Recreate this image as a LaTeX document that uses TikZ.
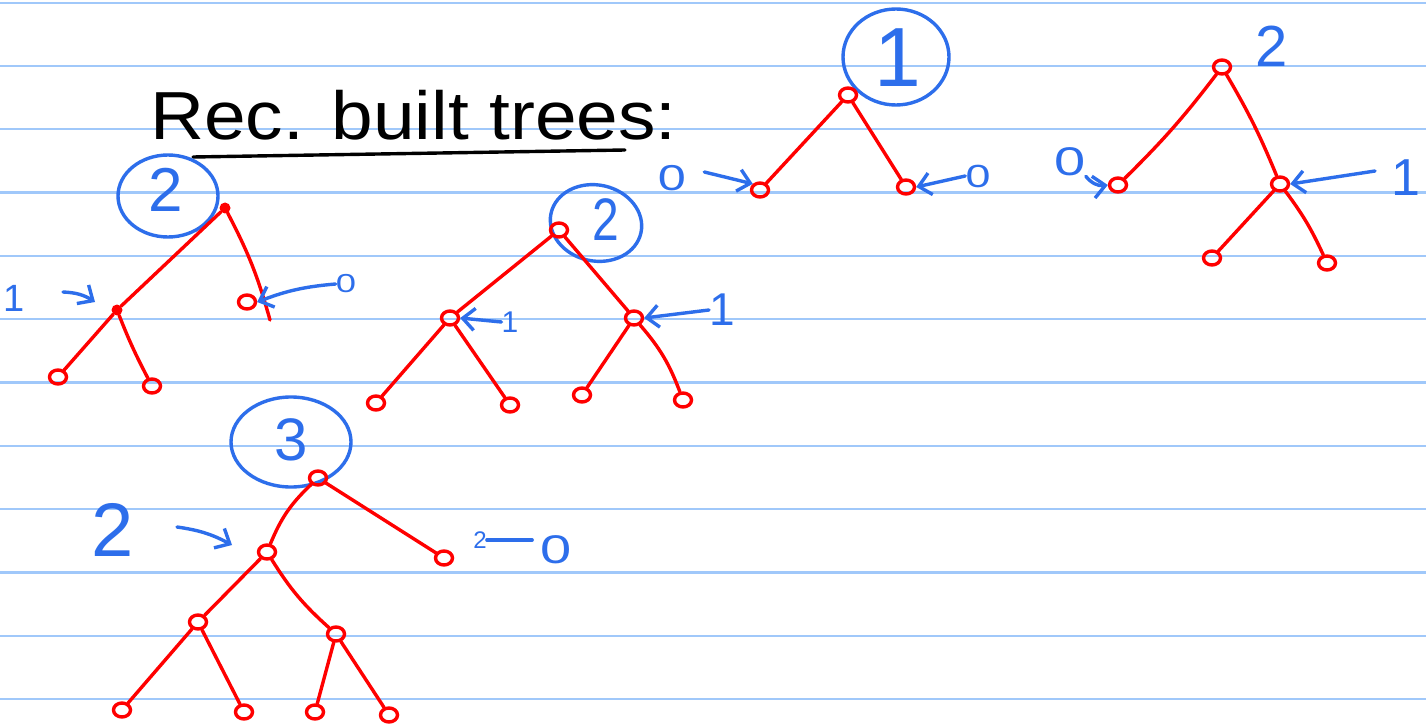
\documentclass[tikz,border=0pt]{standalone}
\usepackage{fontspec}
\setmainfont{Liberation Sans}
\usetikzlibrary{arrows.meta,shapes.geometric}
\definecolor{rulec}{RGB}{160,200,250}
\definecolor{ink}{RGB}{45,110,235}
\definecolor{pen}{RGB}{255,0,0}
\tikzset{
 rn/.style={ellipse,draw=pen,line width=3.4pt,inner sep=0pt,minimum width=17pt,minimum height=14pt},
 rdot/.style={circle,fill=pen,inner sep=0pt,minimum size=11pt},
 edge/.style={draw=pen,line width=3.4pt,line cap=round},
 bl/.style={draw=ink,line width=3.4pt,line cap=round},
 barrow/.style={bl,-{Straight Barb[length=12pt,width=22pt,line width=3.4pt]}},
 ring/.style={ellipse,draw=ink,line width=3.4pt,inner sep=0pt},
 dig/.style={text=ink,inner sep=0pt,font=\fontsize{#1}{#1}\selectfont},
 zero/.style={text=ink,inner sep=0pt,xscale=1.4,font=\fontsize{#1}{#1}\selectfont},
 ruled/.style={draw=rulec,line width=2.2pt},
}
\begin{document}
\begin{tikzpicture}[x=1pt,y=-1pt]
\useasboundingbox (0,0) rectangle (1426,727);
\fill[white] (0,0) rectangle (1426,727);
% ruled lines
\foreach \k in {0,...,11}{
  \draw[ruled] (0,{2.7+63.3*\k}) -- (1426,{2.7+63.3*\k});
}
% title
\node[anchor=base west,inner sep=0pt,xscale=1.1,font=\fontsize{68}{68}\selectfont] (title) at (150,140) {Rec. built trees:};
\coordinate (ulA) at (193,157);
\coordinate (ulB) at (625,150);
\draw[line width=3.4pt,line cap=round] (ulA) -- (ulB);

% ---------- Tree A ----------
\node[ring,minimum width=100pt,minimum height=82pt] (ringA) at (168,196) {};
\node[dig=62] (numA) at (166,190) {2};
\node[rdot] (A0) at (225,208) {};
\node[rdot] (A1) at (117,310) {};
\coordinate (Aend) at (270,320);
\node[rn] (A2) at (247,302) {};
\node[rn] (A3) at (58,377) {};
\node[rn] (A4) at (152,386) {};
\draw[edge] (A0) -- (A1);
\draw[edge] (A0) to[bend left=6] (Aend);
\draw[edge] (A1) -- (A3);
\draw[edge] (A1) to[bend right=3] (A4);
\node[dig=38] (lA1) at (14,298) {1};
\coordinate (hA1) at (63,292);
\coordinate (hA2) at (95,302);
\draw[barrow] (hA1) to[bend left=15] (hA2);
\node[zero=26] (lA0) at (346,284) {0};
\draw[barrow] (lA0.west) to[bend right=8] (A2.east);

% ---------- Tree B ----------
\node[ring,minimum width=92pt,minimum height=76pt,rotate=-12] (ringB) at (596,223) {};
\node[dig=60,xscale=0.8] (numB) at (606,220) {2};
\node[rn] (B0) at (559,230) {};
\node[rn] (B1) at (450,318) {};
\node[rn] (B2) at (634,318) {};
\node[rn] (B3) at (376,403) {};
\node[rn] (B4) at (510,405) {};
\node[rn] (B5) at (582,395) {};
\node[rn] (B6) at (683,400) {};
\draw[edge] (B0) -- (B1);
\draw[edge] (B0) -- (B2);
\draw[edge] (B1) -- (B3);
\draw[edge] (B1) -- (B4);
\draw[edge] (B2) -- (B5);
\draw[edge] (B2) to[bend left=10] (B6);
\node[dig=30] (lB1) at (510,322) {1};
\draw[barrow] (lB1.west) -- (B1.east);
\node[dig=46] (lB2) at (722,310) {1};
\draw[barrow] (lB2.west) -- (B2.east);

% ---------- Tree C ----------
\node[ring,minimum width=106pt,minimum height=96pt] (ringC) at (896,57) {};
\node[dig=84] (numC) at (898,58) {1};
\node[rn] (C0) at (848,95) {};
\node[rn] (C1) at (760,190) {};
\node[rn] (C2) at (906,187) {};
\draw[edge] (C0) -- (C1);
\draw[edge] (C0) -- (C2);
\node[zero=36] (lC1) at (672,178) {0};
\draw[barrow] (lC1.east) ++(18,-6) coordinate (cC1) -- (C1.north west);
\node[zero=32] (lC2) at (978,176) {0};
\draw[barrow] (lC2.west) -- (C2.east);

% ---------- Tree D ----------
\node[dig=58] (numD) at (1272,46) {2};
\node[rn] (D0) at (1222,67) {};
\node[rn] (D1) at (1118,185) {};
\node[rn] (D2) at (1280,184) {};
\node[rn] (D3) at (1212,258) {};
\node[rn] (D4) at (1327,263) {};
\draw[edge] (D0) to[bend left=4] (D1);
\draw[edge] (D0) to[bend left=4] (D2);
\draw[edge] (D2) -- (D3);
\draw[edge] (D2) to[bend left=6] (D4);
\node[zero=40] (lD1) at (1070,162) {0};
\draw[barrow] (lD1.south east) to[bend right=30] (D1.west);
\node[dig=52] (lD2) at (1406,178) {1};
\coordinate (aD2) at (1375,171);
\draw[barrow] (aD2) -- (D2.east);

% ---------- Tree E ----------
\node[ring,minimum width=120pt,minimum height=90pt] (ringE) at (291,442) {};
\node[dig=60] (numE) at (291,440) {3};
\node[rn] (E0) at (318,478) {};
\node[rn] (E1) at (267,552) {};
\node[rn] (E2) at (444,558) {};
\node[rn] (E3) at (198,622) {};
\node[rn] (E4) at (336,634) {};
\node[rn] (E5) at (122,710) {};
\node[rn] (E6) at (244,712) {};
\node[rn] (E7) at (315,712) {};
\node[rn] (E8) at (389,715) {};
\draw[edge] (E0) to[bend right=12] (E1);
\draw[edge] (E0) -- (E2);
\draw[edge] (E1) -- (E3);
\draw[edge] (E1) to[bend right=8] (E4);
\draw[edge] (E3) -- (E5);
\draw[edge] (E3) -- (E6);
\draw[edge] (E4) -- (E7);
\draw[edge] (E4) -- (E8);
\node[dig=76] (lE1) at (113,530) {2};
\coordinate (aE1) at (177,527);
\coordinate (bE1) at (232,545);
\draw[barrow] (aE1) to[bend left=10] (bE1);
\node[zero=40] (lE2) at (556,550) {0};
\node[dig=24] (lE3) at (480,540) {2};
\draw[bl] (lE2.west) ++(-8,-10) coordinate (cE2) -- (lE3.east);
\end{tikzpicture}
\end{document}
